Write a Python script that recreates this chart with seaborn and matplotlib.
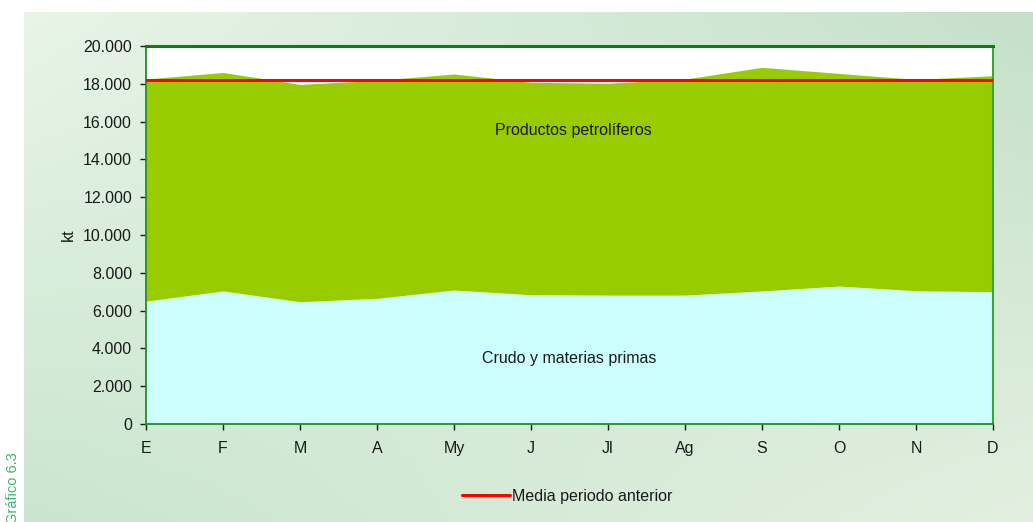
import numpy as np
import pandas as pd
import matplotlib
matplotlib.use("Agg")
import matplotlib.pyplot as plt
import seaborn as sns

# Monthly stocks (kt)
months = ["E", "F", "M", "A", "My", "J", "Jl", "Ag", "S", "O", "N", "D"]
crudo = [6500, 7040, 6470, 6650, 7090, 6840, 6820, 6820, 7040, 7300, 7050, 7000]
total = [18250, 18600, 17970, 18180, 18520, 18080, 18030, 18250, 18870, 18550, 18230, 18430]
media_anterior = 18200
y_ticks = [0, 2000, 4000, 6000, 8000, 10000, 12000, 14000, 16000, 18000, 20000]

sns.set_theme(style="white")
plt.rcParams["font.family"] = ["Liberation Sans", "DejaVu Sans"]

FS = 11.5
W, H = 1033, 522
fig = plt.figure(figsize=(W / 100, H / 100), dpi=100)
fig.patch.set_facecolor("white")

# Soft green gradient panel behind the chart
bg = fig.add_axes([24 / W, 0, 1 - 24 / W, 1 - 12 / H], zorder=0)
gx = np.linspace(0, 1, 200)
gy = np.linspace(0, 1, 100)
X, Y = np.meshgrid(gx, gy)
tl = np.array([0.91, 0.96, 0.91])
tr = np.array([0.77, 0.88, 0.79])
bl = np.array([0.79, 0.90, 0.81])
br = np.array([0.89, 0.94, 0.88])
img = ((1 - X)[..., None] * (1 - Y)[..., None] * tl + X[..., None] * (1 - Y)[..., None] * tr
       + (1 - X)[..., None] * Y[..., None] * bl + X[..., None] * Y[..., None] * br)
bg.imshow(img, aspect="auto", extent=[0, 1, 0, 1], origin="upper")
bg.set_axis_off()

ax = fig.add_axes([146 / W, 1 - 424 / H, (993 - 146) / W, (424 - 46) / H], zorder=1)
ax.set_facecolor("white")

x = np.arange(len(months))
df = pd.DataFrame({"mes": months, "x": x, "crudo": crudo, "total": total,
                   "media": [media_anterior] * len(months)})

ax.fill_between(df["x"], 0, df["crudo"], color="#CCFFFF", linewidth=0, zorder=1)
ax.fill_between(df["x"], df["crudo"], df["total"], color="#99CC00", linewidth=0, zorder=1)

sns.lineplot(data=df, x="x", y="media", ax=ax, color="#FF0000", linewidth=2.2,
             label="Media periodo anterior", zorder=3, legend=False)

ax.set_xlim(0, len(months) - 1)
ax.set_ylim(0, 20000)
ax.set_xticks(x)
ax.set_xticklabels(months)
ax.set_yticks(y_ticks)
ax.set_yticklabels([f"{v:,}".replace(",", ".") for v in y_ticks])
ax.tick_params(axis="both", which="major", labelsize=FS, colors="#1a1a1a",
               length=4, width=1, direction="out", pad=6,
               bottom=True, left=True)
ax.tick_params(axis="x", pad=8)
for t in ax.get_xticklines() + ax.get_yticklines():
    t.set_color("#2e9e2e")
ax.set_xlabel("")
ax.set_ylabel("kt", fontsize=FS, color="#1a1a1a", labelpad=5)

for side, col, lw in [("left", "#1f8f1f", 1.3), ("bottom", "#1f8f1f", 1.3),
                      ("top", "#117a11", 2.2), ("right", "#3aa63a", 1.5)]:
    ax.spines[side].set_visible(True)
    ax.spines[side].set_color(col)
    ax.spines[side].set_linewidth(lw)

ax.text(5.55, 15550, "Productos petrolíferos", ha="center", va="center",
        fontsize=FS, color="#1a1a1a", zorder=4)
ax.text(5.49, 3490, "Crudo y materias primas", ha="center", va="center",
        fontsize=FS, color="#1a1a1a", zorder=4)

leg = fig.legend(loc="center", bbox_to_anchor=(567 / W, 1 - 496 / H), frameon=False,
                 fontsize=FS, handlelength=3.0, handletextpad=0.15)
for txt in leg.get_texts():
    txt.set_color("#1a1a1a")

fig.text(13 / W, 1 - 452 / H, "Gráfico 6.3", rotation=90, ha="center", va="top",
         fontsize=10.5, color="#3cb86a")

fig.savefig("out.png", dpi=100)
